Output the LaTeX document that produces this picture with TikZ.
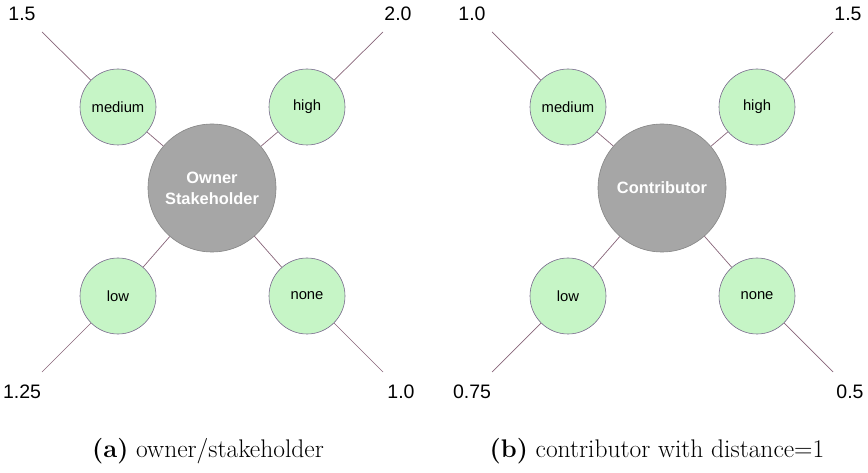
\documentclass[tikz,border=0pt]{standalone}
\usepackage{fontspec}
\setsansfont{Liberation Sans}
\begin{document}
\begin{tikzpicture}[x=1pt,y=-1pt,
  level/.style={circle,draw=borderpurple,fill=levelgreen,line width=0.6pt,minimum size=76pt,inner sep=0pt,font=\sffamily\fontsize{14.8}{16}\selectfont},
  role/.style={circle,draw=rolegray!80!black,fill=rolegray,line width=0.6pt,minimum size=128pt,inner sep=0pt,align=center,text=white,font=\sffamily\bfseries\fontsize{16.4}{21}\selectfont},
  weight/.style={font=\sffamily\fontsize{19.5}{22}\selectfont},
  spoke/.style={draw=spokepurple,line width=0.7pt},
  caption/.style={font=\fontsize{25.5}{28}\selectfont}]
\definecolor{levelgreen}{RGB}{198,245,198}
\definecolor{borderpurple}{RGB}{120,105,140}
\definecolor{spokepurple}{RGB}{135,100,120}
\definecolor{rolegray}{RGB}{166,166,166}
\useasboundingbox (0,0) rectangle (868,473);

% ---- (a) owner / stakeholder ----
\node[role] (ca) at (212,188) {Owner\\Stakeholder};
\node[level] (ma) at (118,107) {medium};
\node[level] (ha) at (307,107) {high};
\node[level] (la) at (118,296) {low};
\node[level] (na) at (307,296) {none};
\coordinate (ema) at (42,32);
\coordinate (eha) at (383,32);
\coordinate (ela) at (42,372);
\coordinate (ena) at (383,372);
\foreach \l in {m,h,l,n}{
  \draw[spoke] (ca) -- (\l a);
  \draw[spoke] (\l a) -- (e\l a);
}
\node[weight] (wma) at (22,14) {1.5};
\node[weight] (wha) at (398,14) {2.0};
\node[weight] (wla) at (22,392) {1.25};
\node[weight] (wna) at (401,392) {1.0};
\node[caption] (capa) at (208,451) {\textbf{(a)} owner/stakeholder};

% ---- (b) contributor ----
\node[role] (cb) at (662,188) {Contributor};
\node[level] (mb) at (568,107) {medium};
\node[level] (hb) at (757,107) {high};
\node[level] (lb) at (568,296) {low};
\node[level] (nb) at (757,296) {none};
\coordinate (emb) at (492,32);
\coordinate (ehb) at (833,32);
\coordinate (elb) at (492,372);
\coordinate (enb) at (833,372);
\foreach \l in {m,h,l,n}{
  \draw[spoke] (cb) -- (\l b);
  \draw[spoke] (\l b) -- (e\l b);
}
\node[weight] (wmb) at (472,14) {1.0};
\node[weight] (whb) at (848,14) {1.5};
\node[weight] (wlb) at (472,392) {0.75};
\node[weight] (wnb) at (850,392) {0.5};
\node[caption] (capb) at (657,451) {\textbf{(b)} contributor with distance=1};
\end{tikzpicture}
\end{document}
